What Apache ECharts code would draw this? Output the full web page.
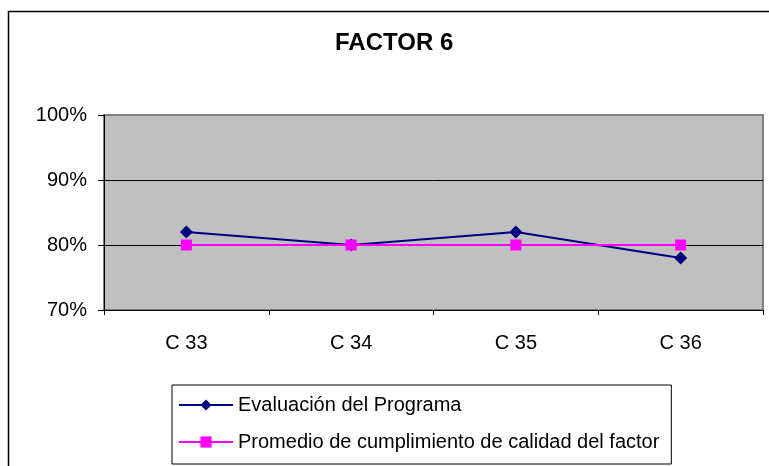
<!DOCTYPE html>
<html>
<head>
<meta charset="utf-8">
<script src="https://cdn.jsdelivr.net/npm/echarts@6/dist/echarts.min.js"></script>
<style>
html,body{margin:0;padding:0;background:#fff;}
#chart{width:769px;height:466px;}
</style>
</head>
<body>
<div id="chart"></div>
<script>
const categories = ['C 33', 'C 34', 'C 35', 'C 36'];
const evaluacion = [82, 80, 82, 78];
const promedio = [80, 80, 80, 80];
const seriesNames = ['Evaluación del Programa', 'Promedio de cumplimiento de calidad del factor'];
const titleText = 'FACTOR 6';

const FONT = 'Liberation Sans, Arial, sans-serif';
const chart = echarts.init(document.getElementById('chart'), null, {renderer: 'canvas'});
chart.setOption({
  animation: false,
  backgroundColor: '#ffffff',
  textStyle: {fontFamily: FONT},
  title: {
    text: titleText,
    left: 335, top: 31, padding: 0,
    textStyle: {fontFamily: FONT, fontSize: 24, fontWeight: 'bold', color: '#000'}
  },
  graphic: [{
    type: 'rect', silent: true, z: -1,
    shape: {x: 8.5, y: 11.5, width: 800, height: 500},
    style: {fill: 'none', stroke: '#000', lineWidth: 1.5}
  }],
  grid: {
    left: 104, top: 115, right: 6, bottom: 156,
    show: true, backgroundColor: '#C0C0C0', borderColor: '#808080', borderWidth: 2
  },
  legend: {
    orient: 'vertical',
    left: 172, top: 385,
    padding: [10, 12, 12, 6],
    borderColor: '#000', borderWidth: 1,
    itemWidth: 54, itemHeight: 14, itemGap: 17,
    textStyle: {fontFamily: FONT, fontSize: 20, color: '#000'},
    data: seriesNames
  },
  xAxis: {
    type: 'category', data: categories, boundaryGap: true,
    axisLine: {lineStyle: {color: '#000', width: 1}},
    axisTick: {show: true, length: 5, lineStyle: {color: '#000'}},
    axisLabel: {fontFamily: FONT, fontSize: 20, color: '#000', margin: 23}
  },
  yAxis: {
    type: 'value', min: 70, max: 100, interval: 10,
    axisLine: {show: true, lineStyle: {color: '#000', width: 1}},
    axisTick: {show: true, length: 6, lineStyle: {color: '#000'}},
    axisLabel: {fontFamily: FONT, fontSize: 20, color: '#000', margin: 17, formatter: '{value}%'},
    splitLine: {show: true, lineStyle: {color: ['#000', '#000', '#000', '#808080'], width: 1}}
  },
  series: [
    {
      name: seriesNames[0], type: 'line', data: evaluacion,
      symbol: 'diamond', symbolSize: 13,
      lineStyle: {color: '#000080', width: 2},
      itemStyle: {color: '#000080'}
    },
    {
      name: seriesNames[1], type: 'line', data: promedio,
      symbol: 'rect', symbolSize: 11,
      lineStyle: {color: '#FF00FF', width: 2},
      itemStyle: {color: '#FF00FF'}
    }
  ]
});
</script>
</body>
</html>
